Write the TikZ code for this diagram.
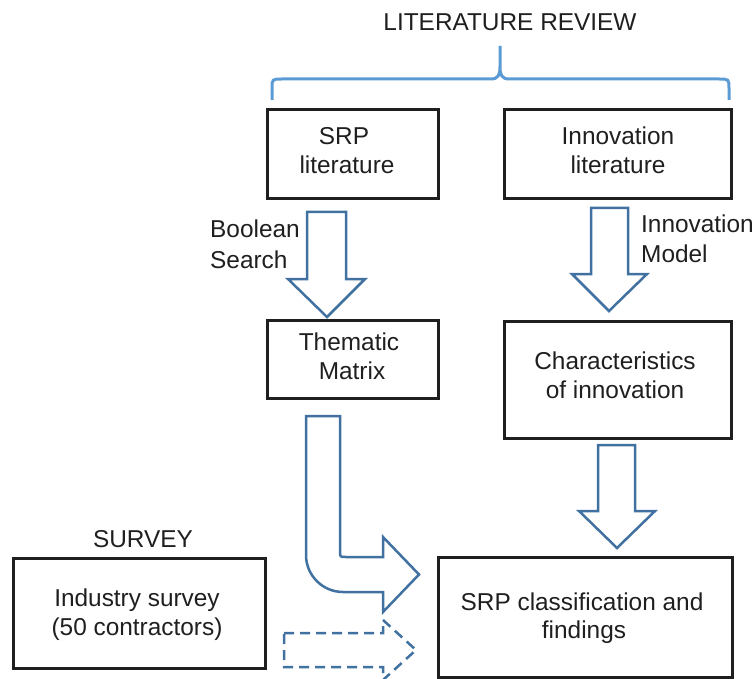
\documentclass[tikz,border=0pt]{standalone}
\usepackage{fontspec}
\setmainfont{Liberation Sans}
\begin{document}
\begin{tikzpicture}[x=1pt,y=-1pt,
  txt/.style={font=\fontsize{24.4}{29}\selectfont, text=black!88, inner sep=0pt, align=center},
  box/.style={draw=black!88, line width=3pt, inner sep=0pt, align=center, font=\fontsize{24.4}{29}\selectfont, text=black!88},
  blockarrow/.style={draw=arrowblue, line width=2.5pt, line join=miter, fill=white},
  bracestyle/.style={draw=braceblue, line width=3pt}]
\definecolor{arrowblue}{RGB}{65,113,160}
\definecolor{braceblue}{RGB}{91,155,213}
\useasboundingbox (0,0) rectangle (755,679);
\clip (0,0) rectangle (755,679);

% title and brace
\node[txt, anchor=base] (lit) at (510,31) {LITERATURE REVIEW};
\draw[bracestyle] (272,100) -- (272,89) .. controls (272,79) .. (282,79) -- (491,79)
  .. controls (498,79) and (500,75) .. (500,67) -- (500,46) -- (500,67)
  .. controls (500,75) and (502,79) .. (509,79) -- (719,79)
  .. controls (729,79) .. (729,89) -- (729,100);

% boxes
\node[box, minimum width=171, minimum height=89] (srp) at (352.5,154.5) {};
\node[txt, anchor=base] (srpa) at (344,145) {SRP};
\node[txt, anchor=base] (srpb) at (347,174) {literature};

\node[box, minimum width=227, minimum height=89] (inno) at (617.5,154.5) {};
\node[txt, anchor=base] (innoa) at (618,145) {Innovation};
\node[txt, anchor=base] (innob) at (618,174) {literature};

\node[box, minimum width=171, minimum height=78] (them) at (352.5,359) {};
\node[txt, anchor=base] (thema) at (349,350) {Thematic};
\node[txt, anchor=base] (themb) at (352,379) {Matrix};

\node[box, minimum width=227, minimum height=117] (char) at (617.5,379.5) {};
\node[txt, anchor=base] (chara) at (615,369) {Characteristics};
\node[txt, anchor=base] (charb) at (615,398) {of innovation};

\node[box, minimum width=294, minimum height=120] (srpc) at (585,617) {};
\node[txt, anchor=base] (srpca) at (582,610) {SRP classification and};
\node[txt, anchor=base] (srpcb) at (584,638) {findings};

\node[box, minimum width=252, minimum height=110] (ind) at (139,613) {};
\node[txt, anchor=base] (inda) at (137,606) {Industry survey};
\node[txt, anchor=base] (indb) at (137,635) {(50 contractors)};

\node[txt, anchor=base] (surv) at (143,547) {SURVEY};

% labels
\node[txt, anchor=base west] (bool1) at (210,238) {Boolean};
\node[txt, anchor=base west] (bool2) at (210,268) {Search};
\node[txt, anchor=base west] (im1) at (641,233) {Innovation};
\node[txt, anchor=base west] (im2) at (641,262) {Model};

% block arrows
\draw[blockarrow] (307,212) -- (346,212) -- (346,279) -- (365,279) -- (327,317) -- (288,279) -- (307,279) -- cycle;
\draw[blockarrow] (591,208) -- (628,208) -- (628,274) -- (647,274) -- (609,311) -- (572,274) -- (591,274) -- cycle;
\draw[blockarrow] (598,445) -- (635,445) -- (635,511) -- (655,511) -- (617,548) -- (579,511) -- (598,511) -- cycle;

% bent arrow
\draw[blockarrow] (306,416) -- (340,416) -- (340,551) .. controls (340,557) .. (346,557)
  -- (383,557) -- (383,537) -- (419,574.5) -- (383,612) -- (383,592) -- (343,592)
  .. controls (322.6,592) and (306,575.4) .. (306,555) -- cycle;

% dashed arrow
\draw[blockarrow, dash pattern=on 10pt off 6pt] (284,633) -- (383,633) -- (383,620) -- (416,650)
  -- (383,680) -- (383,667) -- (284,667) -- cycle;
\end{tikzpicture}
\end{document}
